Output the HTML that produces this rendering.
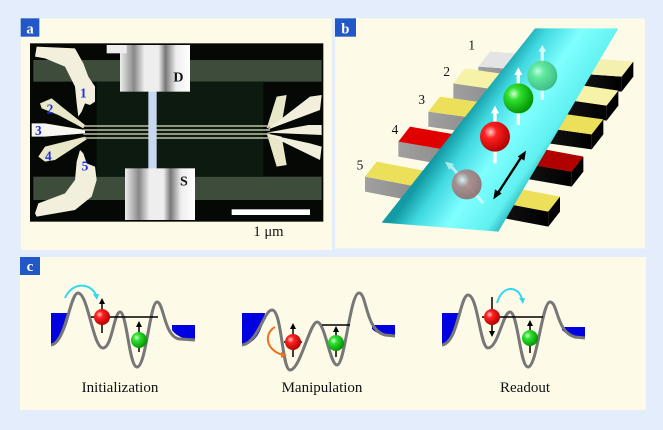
<!DOCTYPE html>
<html><head><meta charset="utf-8"><style>
html,body{margin:0;padding:0;background:#e4edfb;}
svg{display:block;}
text{font-family:"Liberation Serif",serif;}
</style></head><body>
<svg width="663" height="430" viewBox="0 0 663 430" xmlns="http://www.w3.org/2000/svg">
<defs>
<radialGradient id="gR" cx="0.35" cy="0.35" r="0.7"><stop offset="0" stop-color="#ffd0d0"/><stop offset="0.3" stop-color="#ff2020"/><stop offset="1" stop-color="#b00000"/></radialGradient>
<radialGradient id="gG" cx="0.35" cy="0.35" r="0.7"><stop offset="0" stop-color="#d0ffd0"/><stop offset="0.3" stop-color="#30e030"/><stop offset="1" stop-color="#009000"/></radialGradient>
<radialGradient id="gG2" cx="0.35" cy="0.35" r="0.7"><stop offset="0" stop-color="#d0ffe0"/><stop offset="0.3" stop-color="#60e890"/><stop offset="1" stop-color="#30b070"/></radialGradient>
<radialGradient id="gB" cx="0.35" cy="0.35" r="0.7"><stop offset="0" stop-color="#d8f0f0"/><stop offset="0.35" stop-color="#b08080"/><stop offset="1" stop-color="#906060"/></radialGradient>
<linearGradient id="tube" gradientUnits="userSpaceOnUse" x1="380" y1="380" x2="620" y2="545"><stop offset="0" stop-color="#139aa4"/><stop offset="0.2" stop-color="#40d8e0"/><stop offset="0.5" stop-color="#80ffff"/><stop offset="0.85" stop-color="#60f0f0"/><stop offset="1" stop-color="#22b0b8"/></linearGradient>
<linearGradient id="front" x1="0" y1="0" x2="1" y2="0"><stop offset="0" stop-color="#a0a0a0"/><stop offset="0.45" stop-color="#808080"/><stop offset="0.55" stop-color="#202020"/><stop offset="1" stop-color="#000"/></linearGradient>
<linearGradient id="pad" x1="0" y1="0" x2="1" y2="0"><stop offset="0" stop-color="#eee"/><stop offset="0.2" stop-color="#888"/><stop offset="0.35" stop-color="#eee"/><stop offset="0.55" stop-color="#eee"/><stop offset="0.65" stop-color="#777"/><stop offset="0.8" stop-color="#eee"/><stop offset="1" stop-color="#fff"/></linearGradient>
</defs>

<!-- Panel a -->
<g transform="scale(0.33333)">
<rect x="62" y="55" width="933" height="695" fill="#fdfbe8"/>
<rect x="62" y="55" width="56" height="55" fill="#2257c8"/>
<text x="90" y="100" font-size="44" font-weight="bold" fill="#fff" text-anchor="middle">a</text>
<rect x="90" y="130" width="880" height="535" fill="#050805"/>
<rect x="100" y="180" width="865" height="65" fill="#3e4c3c"/>
<rect x="100" y="530" width="865" height="70" fill="#3e4c3c"/>
<rect x="290" y="245" width="500" height="285" fill="#0c1a10"/>
<polygon fill="#f2f0dc" points="110,140 225,145 250,190 265,230 285,260 285,305 270,315 255,310 245,335 235,350 230,310 225,260 195,200 135,175 105,170"/>
<polygon fill="#f2f0dc" points="110,650 225,630 275,590 290,540 285,500 260,490 250,460 240,450 230,485 225,540 195,580 115,610 105,640"/>
<polygon fill="#e8e8c8" points="120,310 155,295 185,320 255,375 250,385 175,345 125,325"/>
<polygon fill="#f8f8f0" points="95,370 135,370 255,390 255,400 135,410 95,410"/>
<polygon fill="#e8e8c8" points="115,470 135,440 255,410 260,418 165,480 135,485"/>
<polygon fill="#e8e8c8" points="830,290 860,285 845,370 800,385"/>
<polygon fill="#e8e8c8" points="830,500 860,495 845,410 800,400"/>
<polygon fill="#f2f0dc" points="930,290 965,285 960,330 800,390"/>
<polygon fill="#f2f0dc" points="925,375 965,375 965,405 800,398"/>
<polygon fill="#f2f0dc" points="930,430 965,440 960,480 800,402"/>
<g stroke="#c8ccb0" stroke-width="5" opacity="0.8">
<line x1="250" y1="378" x2="810" y2="378"/><line x1="250" y1="390" x2="810" y2="390"/><line x1="250" y1="402" x2="810" y2="402"/><line x1="250" y1="414" x2="810" y2="414"/>
</g>
<rect x="445" y="270" width="25" height="240" fill="#c8d8f0"/>
<rect x="360" y="135" width="210" height="140" fill="url(#pad)"/>
<rect x="320" y="135" width="60" height="25" fill="#eee"/>
<rect x="375" y="505" width="210" height="155" fill="url(#pad)"/>
<text x="520" y="245" font-size="42" font-weight="bold" fill="#111">D</text>
<text x="540" y="557" font-size="42" font-weight="bold" fill="#111">S</text>
<g font-size="40" font-weight="bold" fill="#2030e0">
<text x="240" y="292">1</text><text x="140" y="340">2</text><text x="105" y="405">3</text><text x="135" y="482">4</text><text x="245" y="512">5</text>
</g>
<rect x="695" y="628" width="235" height="17" fill="#fff"/>
<text x="760" y="708" font-size="44" fill="#111">1 μm</text>
</g>

<!-- Panel b -->
<g transform="translate(330,0) scale(0.33333)">
<rect x="15" y="55" width="930" height="690" fill="#fdfbe8"/>
<rect x="15" y="55" width="63" height="55" fill="#2257c8"/>
<text x="46" y="100" font-size="44" font-weight="bold" fill="#fff" text-anchor="middle">b</text>
<!-- bars -->
<g>
<polygon points="445,200 875,230 875,275 445,245" fill="url(#front)"/>
<polygon points="480,155 910,185 875,230 445,200" fill="#e4e4e4"/>
<polygon points="720,170 910,185 875,230 700,215" fill="#f4f0b0"/>
<polygon points="875,230 910,185 910,230 875,275" fill="#000"/>

<polygon points="370,250 830,317 830,362 370,295" fill="url(#front)"/>
<polygon points="405,205 865,272 830,317 370,250" fill="#f6f2a8"/>
<polygon points="830,317 865,272 865,317 830,362" fill="#000"/>

<polygon points="295,335 785,403 785,448 295,380" fill="url(#front)"/>
<polygon points="330,290 820,358 785,403 295,335" fill="#ece05a"/>
<polygon points="785,403 820,358 820,403 785,448" fill="#000"/>

<polygon points="205,425 725,515 725,560 205,470" fill="url(#front)"/>
<polygon points="240,380 760,470 725,515 205,425" fill="#e00000"/>
<polygon points="600,440 760,470 725,515 580,490" fill="#b00000"/>
<polygon points="725,515 760,470 760,515 725,560" fill="#000"/>

<polygon points="105,530 655,635 655,680 105,575" fill="url(#front)"/>
<polygon points="140,485 690,590 655,635 105,530" fill="#ece05a"/>
<polygon points="655,635 690,590 690,635 655,680" fill="#000"/>
</g>
<polygon points="615,85 865,85 505,695 155,668" fill="url(#tube)"/>
<g font-size="40" fill="#111">
<text x="415" y="148">1</text><text x="340" y="228">2</text><text x="265" y="312">3</text><text x="185" y="402">4</text><text x="80" y="508">5</text>
</g>
<!-- balls and spins -->
<g fill="#fff" opacity="0.75"><rect x="632" y="150" width="10" height="40"/><polygon points="625,155 637,135 649,155"/><rect x="632" y="265" width="10" height="35"/></g>
<circle cx="637" cy="227" r="45" fill="url(#gG2)" opacity="0.85"/>
<g fill="#fff"><rect x="560" y="220" width="10" height="35"/><polygon points="553,225 565,202 577,225"/><rect x="560" y="335" width="10" height="40"/></g>
<circle cx="565" cy="295" r="45" fill="url(#gG)"/>
<g fill="#fff"><rect x="490" y="335" width="10" height="35"/><polygon points="483,340 495,317 507,340"/><rect x="490" y="450" width="10" height="40"/></g>
<circle cx="495" cy="410" r="45" fill="url(#gR)"/>
<g fill="#fff" opacity="0.6"><line x1="360" y1="495" x2="460" y2="610" stroke="#fff" stroke-width="9"/><polygon points="345,485 372,492 358,510"/></g>
<circle cx="410" cy="553" r="45" fill="url(#gB)" opacity="0.85"/>
<g stroke="#000" stroke-width="7" fill="#000"><line x1="500" y1="585" x2="578" y2="465"/></g>
<polygon points="490,598 495,568 515,580" fill="#000"/>
<polygon points="588,452 583,482 563,470" fill="#000"/>
</g>

<!-- Panel c -->
<rect x="20" y="257" width="626" height="153" fill="#fdfbe8"/>
<rect x="20" y="257" width="20" height="18" fill="#2257c8"/>
<text x="30" y="271" font-size="15" font-weight="bold" fill="#fff" text-anchor="middle">c</text>

<!-- Initialization -->
<path d="M51,313 L70,313 C66,330 60,343 51,345 Z" fill="#0000e0"/>
<path d="M172,325 L195,325 L195,340 C185,340 176,336 172,330 Z" fill="#0000e0"/>
<path d="M51,345 C66,343 70,293 78,293 C88,293 93,348 103,348 C112,348 114,312 120,312 C127,312 129,367 137,367 C146,367 150,302 157,302 C164,302 164,338 180,339 L195,340" fill="none" stroke="#777" stroke-width="3"/>
<line x1="91" y1="317" x2="158" y2="317" stroke="#000" stroke-width="1.5"/>
<line x1="102" y1="303" x2="102" y2="333" stroke="#000" stroke-width="1.5"/><polygon points="99,304 102,298 105,304"/>
<circle cx="102" cy="317" r="8" fill="url(#gR)"/>
<line x1="139" y1="326" x2="139" y2="352" stroke="#000" stroke-width="1.5"/><polygon points="136,327 139,321 142,327"/>
<circle cx="139" cy="340" r="8" fill="url(#gG)"/>
<path d="M65,298 C72,282 90,282 96,295" fill="none" stroke="#30d8f0" stroke-width="2"/><polygon points="93,294 99,294 97,300" fill="#30d8f0"/>
<text x="120" y="392" font-size="15" text-anchor="middle" fill="#111">Initialization</text>

<!-- Manipulation -->
<path d="M242,313 L265,313 C262,332 255,344 242,345 Z" fill="#0000e0"/>
<path d="M372,325 L395,325 L395,337 C385,337 376,333 372,329 Z" fill="#0000e0"/>
<path d="M242,345 C258,343 264,310 272,310 C282,310 282,370 290,370 C300,370 310,322 317,322 C325,322 330,365 337,365 C345,365 350,293 359,293 C367,293 365,330 385,335 L395,336" fill="none" stroke="#777" stroke-width="3"/>
<line x1="322" y1="325" x2="350" y2="325" stroke="#000" stroke-width="1.5"/>
<line x1="284" y1="342" x2="302" y2="342" stroke="#000" stroke-width="1.5"/>
<line x1="293" y1="328" x2="293" y2="357" stroke="#000" stroke-width="1.5"/><polygon points="290,329 293,323 296,329"/>
<circle cx="293" cy="342" r="8" fill="url(#gR)"/>
<line x1="336" y1="331" x2="336" y2="357" stroke="#000" stroke-width="1.5"/><polygon points="333,332 336,326 339,332"/>
<circle cx="336" cy="343" r="8" fill="url(#gG)"/>
<path d="M275,327 C264,333 265,350 283,355" fill="none" stroke="#f07020" stroke-width="2"/><polygon points="281,352 287,355 281,358" fill="#f07020"/>
<text x="322" y="392" font-size="15" text-anchor="middle" fill="#111">Manipulation</text>

<!-- Readout -->
<path d="M442,313 L460,313 C457,332 451,344 442,345 Z" fill="#0000e0"/>
<path d="M562,327 L585,327 L585,338 C575,338 566,334 562,330 Z" fill="#0000e0"/>
<path d="M442,345 C458,343 460,295 468,295 C478,295 480,348 488,348 C498,348 503,312 510,312 C518,312 520,367 528,367 C537,367 542,302 550,302 C558,302 556,332 575,337 L585,338" fill="none" stroke="#777" stroke-width="3"/>
<line x1="482" y1="317" x2="543" y2="317" stroke="#000" stroke-width="1.5"/>
<line x1="492" y1="297" x2="492" y2="332" stroke="#000" stroke-width="1.5"/><polygon points="489,331 492,337 495,331"/>
<circle cx="492" cy="317" r="8" fill="url(#gR)"/>
<line x1="530" y1="325" x2="530" y2="353" stroke="#000" stroke-width="1.5"/><polygon points="527,326 530,320 533,326"/>
<circle cx="530" cy="338" r="8" fill="url(#gG)"/>
<path d="M497,303 C502,285 518,285 522,299" fill="none" stroke="#30d8f0" stroke-width="2"/><polygon points="519,298 525,298 523,304" fill="#30d8f0"/>
<text x="525" y="392" font-size="15" text-anchor="middle" fill="#111">Readout</text>
</svg>
</body></html>
